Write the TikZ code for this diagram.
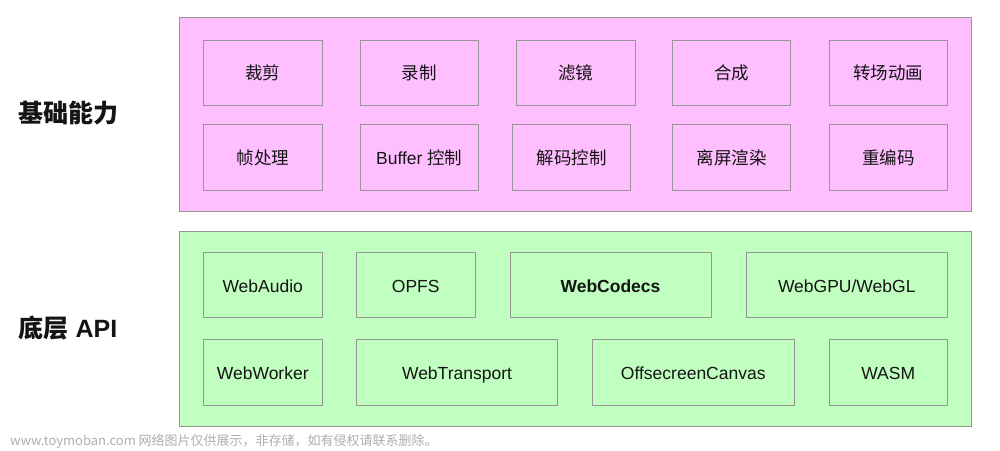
\documentclass[tikz,border=0pt]{standalone}
\usepackage{fontspec}
\setmainfont{Liberation Sans}
\newfontfamily\cjk{Noto Sans CJK SC}
\definecolor{pinkbg}{RGB}{255,190,255}
\definecolor{greenbg}{RGB}{192,255,192}
\definecolor{boxline}{RGB}{150,150,150}
\definecolor{ink}{RGB}{20,20,20}
\definecolor{wm}{RGB}{175,175,175}
\newcommand\bx[7]{\node[box,fill=#7,minimum width={#4-#2},minimum height={#5-#3}] (#1) at ({(#2+#4)/2},{(#3+#5)/2}) {#6};}
\begin{document}
\begin{tikzpicture}[x=1pt,y=-1pt,
  box/.style={draw=boxline,line width=0.9pt,inner sep=0pt,text=ink,text height=14pt,text depth=0pt,font=\fontsize{17.5}{20}\selectfont},
  panel/.style={draw=boxline,line width=0.9pt,inner sep=0pt},
  lbl/.style={text=ink,font=\fontsize{25}{28}\selectfont\bfseries,inner sep=0pt}]
\useasboundingbox[fill=white] (0,0) rectangle (1000,450);
\node[panel,fill=pinkbg,minimum width=792pt,minimum height=194pt] (top) at (575.5,114.5) {};
\node[panel,fill=greenbg,minimum width=792pt,minimum height=194.5pt] (bot) at (575.5,328.75) {};
% top row 1
\bx{a1}{203.5}{40}{322}{105.5}{\cjk 裁剪}{pinkbg}
\bx{a2}{360}{40}{478.5}{105.5}{\cjk 录制}{pinkbg}
\bx{a3}{516}{40}{635}{105.5}{\cjk 滤镜}{pinkbg}
\bx{a4}{672.5}{40}{790.5}{105.5}{\cjk 合成}{pinkbg}
\bx{a5}{829}{40}{947.5}{105.5}{\cjk 转场动画}{pinkbg}
% top row 2
\bx{b1}{203.5}{124.5}{322}{190}{\cjk 帧处理}{pinkbg}
\bx{b2}{360}{124.5}{478.5}{190}{Buffer {\cjk 控制}}{pinkbg}
\bx{b3}{512.5}{124.5}{630.5}{190}{\cjk 解码控制}{pinkbg}
\bx{b4}{672.5}{124.5}{790.5}{190}{\cjk 离屏渲染}{pinkbg}
\bx{b5}{829}{124.5}{947.5}{190}{\cjk 重编码}{pinkbg}
% bottom row 1
\bx{c1}{203.5}{252.5}{322}{317.5}{WebAudio}{greenbg}
\bx{c2}{356.5}{252.5}{475}{317.5}{OPFS}{greenbg}
\bx{c3}{510}{252.5}{711}{317.5}{\bfseries WebCodecs}{greenbg}
\bx{c4}{746}{252.5}{947.5}{317.5}{WebGPU/WebGL}{greenbg}
% bottom row 2
\bx{d1}{203.5}{339.5}{322}{405}{WebWorker}{greenbg}
\bx{d2}{356.5}{339.5}{557.5}{405}{WebTransport}{greenbg}
\bx{d3}{592.5}{339.5}{794}{405}{OffsecreenCanvas}{greenbg}
\bx{d4}{829}{339.5}{947.5}{405}{WASM}{greenbg}
% side labels
\node[lbl] (l1) at (68,113) {\cjk\bfseries 基础能力};
\node[lbl] (l2) at (68,328) {{\cjk\bfseries 底层} API};
% watermark
\node[anchor=west,inner sep=0pt,text=wm,font=\cjk\fontsize{13}{15}\selectfont] (wmk) at (10,441) {www.toymoban.com 网络图片仅供展示，非存储，如有侵权请联系删除。};
\end{tikzpicture}
\end{document}
